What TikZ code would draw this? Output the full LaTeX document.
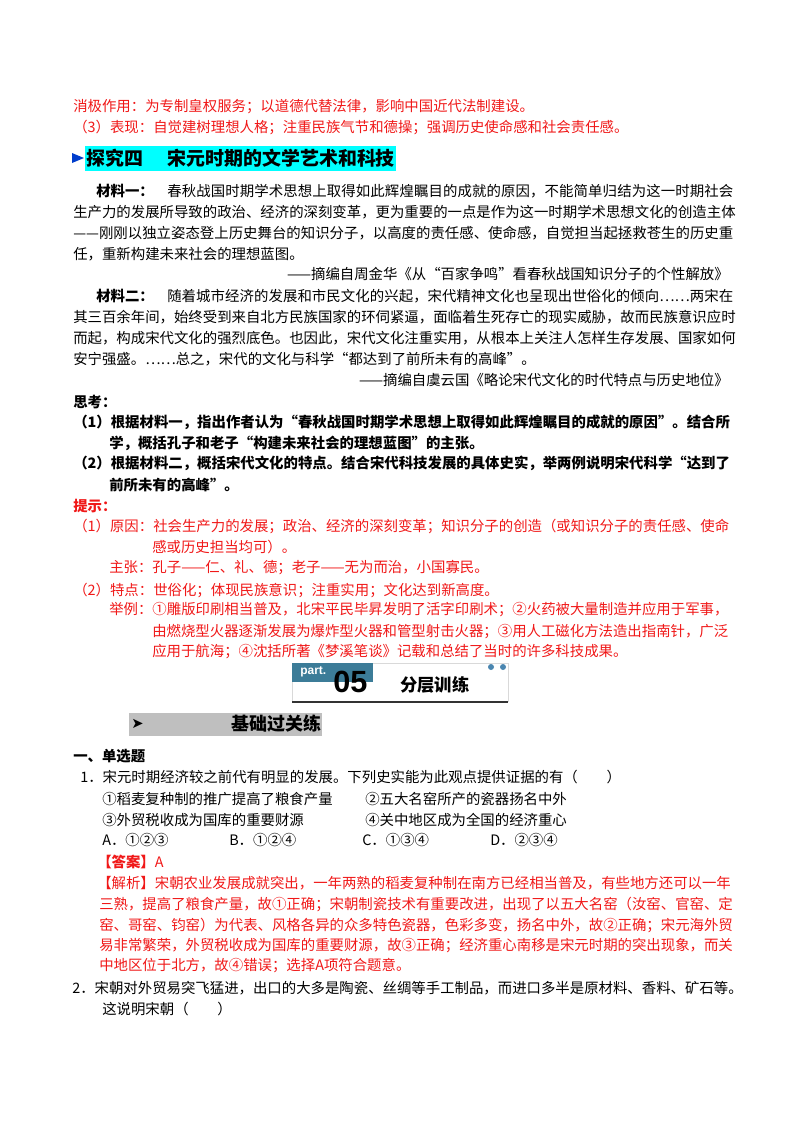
\documentclass[tikz,border=0pt]{standalone}
\usepackage{fontspec}
\setmainfont{Noto Sans CJK SC}
\newfontfamily\latin{Liberation Sans}
\newfontfamily\dejavu{DejaVu Sans}
\definecolor{tipred}{HTML}{F01818}
\definecolor{hcyan}{HTML}{00FFFF}
\definecolor{tealbox}{HTML}{3C7C98}
\definecolor{dotblue}{HTML}{4A86B0}
\newdimen\px \px=0.75pt
\makeatletter
\def\myspr#1{\ifx#1\relax\unskip\else#1\hfil\expandafter\myspr\fi}
\newcommand\spreadto[2]{\hbox to #1\px{\myspr#2\relax}}
\makeatother
\tikzset{
  ln/.style={anchor=west,inner sep=0pt,font=\fontsize{10.8pt}{12pt}\selectfont},
  lr/.style={anchor=east,inner sep=0pt,font=\fontsize{10.8pt}{12pt}\selectfont},
  red/.style={text=tipred},
}
\begin{document}
\begin{tikzpicture}[x=0.75pt,y=-0.75pt]
\useasboundingbox (0,0) rectangle (800,1132);
% top red lines
\node[ln,red] (a1) at (73,107) {消极作用：为专制皇权服务；以道德代替法律，影响中国近代法制建设。};
\node[ln,red] (a2) at (73,127) {（3）表现：自觉建树理想人格；注重民族气节和德操；强调历史使命感和社会责任感。};
% header
\fill[hcyan] (85,146) rectangle (396,171);
\fill[blue!70!cyan!80!black] (72,153) -- (84,158) -- (72,163) -- cycle;
\node[anchor=west,inner sep=0pt,font=\fontsize{14.2pt}{16pt}\selectfont\bfseries] (h1) at (86,158) {探究四\hspace{1.3em}宋元时期的文学艺术和科技};
% material 1
\node[ln,font=\fontsize{10.8pt}{12pt}\selectfont\bfseries] (m1a) at (96,191) {材料一：};
\node[ln] (m1b) at (167,191) {\spreadto{566}{春秋战国时期学术思想上取得如此辉煌瞩目的成就的原因，不能简单归结为这一时期社会}};
\node[ln] (m2) at (73,212) {\spreadto{660}{生产力的发展所导致的政治、经济的深刻变革，更为重要的一点是作为这一时期学术思想文化的创造主体}};
\node[ln] (m3) at (73,233) {\spreadto{660}{——刚刚以独立姿态登上历史舞台的知识分子，以高度的责任感、使命感，自觉担当起拯救苍生的历史重}};
\node[ln] (m4) at (73,254) {任，重新构建未来社会的理想蓝图。};
\node[lr] (c1) at (729,274) {——摘编自周金华《从“百家争鸣”看春秋战国知识分子的个性解放》};
% material 2
\node[ln,font=\fontsize{10.8pt}{12pt}\selectfont\bfseries] (n1a) at (96,296) {材料二：};
\node[ln] (n1b) at (167,296) {\spreadto{566}{随着城市经济的发展和市民文化的兴起，宋代精神文化也呈现出世俗化的倾向……两宋在}};
\node[ln] (n2) at (73,317) {\spreadto{660}{其三百余年间，始终受到来自北方民族国家的环伺紧逼，面临着生死存亡的现实威胁，故而民族意识应时}};
\node[ln] (n3) at (73,338) {\spreadto{660}{而起，构成宋代文化的强烈底色。也因此，宋代文化注重实用，从根本上关注人怎样生存发展、国家如何}};
\node[ln] (n4) at (73,359) {安宁强盛。……总之，宋代的文化与科学“都达到了前所未有的高峰”。};
\node[lr] (c2) at (729,380) {——摘编自虞云国《略论宋代文化的时代特点与历史地位》};
% questions
\node[ln,font=\fontsize{10.8pt}{12pt}\selectfont\bfseries] (q0) at (73,402) {思考：};
\node[ln,font=\fontsize{10.8pt}{12pt}\selectfont\bfseries] (q1) at (73,422) {\spreadto{649}{（1）根据材料一，指出作者认为“春秋战国时期学术思想上取得如此辉煌瞩目的成就的原因”。结合所}};
\node[ln,font=\fontsize{10.8pt}{12pt}\selectfont\bfseries] (q2) at (109,443) {学，概括孔子和老子“构建未来社会的理想蓝图”的主张。};
\node[ln,font=\fontsize{10.8pt}{12pt}\selectfont\bfseries] (q3) at (73,463) {\spreadto{649}{（2）根据材料二，概括宋代文化的特点。结合宋代科技发展的具体史实，举两例说明宋代科学“达到了}};
\node[ln,font=\fontsize{10.8pt}{12pt}\selectfont\bfseries] (q4) at (109,485) {前所未有的高峰”。};
% tips
\node[ln,red,font=\fontsize{10.8pt}{12pt}\selectfont\bfseries] (t0) at (73,506) {提示：};
\node[ln,red] (t1) at (73,526) {\spreadto{649}{（1）原因：社会生产力的发展；政治、经济的深刻变革；知识分子的创造（或知识分子的责任感、使命}};
\node[ln,red] (t2) at (152,547) {感或历史担当均可）。};
\node[ln,red] (t3) at (109,568) {主张：孔子——仁、礼、德；老子——无为而治，小国寡民。};
\node[ln,red] (t4) at (73,590) {（2）特点：世俗化；体现民族意识；注重实用；文化达到新高度。};
\node[ln,red] (t5) at (109,610) {\spreadto{613}{举例：①雕版印刷相当普及，北宋平民毕昇发明了活字印刷术；②火药被大量制造并应用于军事，}};
\node[ln,red] (t6) at (152,632) {\spreadto{570}{由燃烧型火器逐渐发展为爆炸型火器和管型射击火器；③用人工磁化方法造出指南针，广泛}};
\node[ln,red] (t7) at (152,652) {应用于航海；④沈括所著《梦溪笔谈》记载和总结了当时的许多科技成果。};
% part 05 banner
\draw[black!15,fill=white] (292,663) rectangle (508,701);
\fill[tealbox] (292,663) rectangle (373,682);
\draw[black!80,line width=1.6pt] (292,702) -- (508,702);
\node[anchor=west,inner sep=0pt,text=white,font=\latin\bfseries\fontsize{9pt}{10pt}\selectfont] (p1) at (300,672) {part.};
\node[anchor=west,inner sep=0pt,font=\latin\bfseries\fontsize{23pt}{24pt}\selectfont] (p2) at (333,682) {05};
\node[anchor=west,inner sep=0pt,font=\fontsize{13pt}{14pt}\selectfont\bfseries] (p3) at (400,685) {分层训练};
\fill[dotblue] (491,667) circle (3);
\fill[dotblue] (503,667) circle (3);
% 基础过关练
\fill[black!25] (129,713) rectangle (322,736);
\node[anchor=west,inner sep=0pt,font=\dejavu\fontsize{11pt}{12pt}\selectfont] (b1) at (131,724) {➤};
\node[anchor=east,inner sep=0pt,font=\fontsize{13.5pt}{15pt}\selectfont\bfseries] (b2) at (322,724) {基础过关练};
% questions section
\node[ln,font=\fontsize{10.8pt}{12pt}\selectfont\bfseries] (s0) at (73,756) {一、单选题};
\node[ln] (s1) at (80,777) {1．宋元时期经济较之前代有明显的发展。下列史实能为此观点提供证据的有（\hspace{2em}）};
\node[ln] (s2) at (102,799) {①稻麦复种制的推广提高了粮食产量};
\node[ln] (s3) at (365,799) {②五大名窑所产的瓷器扬名中外};
\node[ln] (s4) at (102,820) {③外贸税收成为国库的重要财源};
\node[ln] (s5) at (365,820) {④关中地区成为全国的经济重心};
\node[ln] (o1) at (102,840) {A．①②③};
\node[ln] (o2) at (229,840) {B．①②④};
\node[ln] (o3) at (362,840) {C．①③④};
\node[ln] (o4) at (490,840) {D．②③④};
\node[ln,red] (k1) at (97,862) {\textbf{【答案】}A};
\node[ln,red] (k2) at (97,883) {\spreadto{625}{【解析】宋朝农业发展成就突出，一年两熟的稻麦复种制在南方已经相当普及，有些地方还可以一年}};
\node[ln,red] (k3) at (99,904) {\spreadto{628}{三熟，提高了粮食产量，故①正确；宋朝制瓷技术有重要改进，出现了以五大名窑（汝窑、官窑、定}};
\node[ln,red] (k4) at (99,925) {\spreadto{628}{窑、哥窑、钧窑）为代表、风格各异的众多特色瓷器，色彩多变，扬名中外，故②正确；宋元海外贸}};
\node[ln,red] (k5) at (99,946) {\spreadto{628}{易非常繁荣，外贸税收成为国库的重要财源，故③正确；经济重心南移是宋元时期的突出现象，而关}};
\node[ln,red] (k6) at (99,966) {中地区位于北方，故④错误；选择A项符合题意。};
\node[ln] (r1) at (72,988) {\spreadto{656}{2．宋朝对外贸易突飞猛进，出口的大多是陶瓷、丝绸等手工制品，而进口多半是原材料、香料、矿石等。}};
\node[ln] (r2) at (102,1009) {这说明宋朝（\hspace{2em}）};
\end{tikzpicture}
\end{document}
